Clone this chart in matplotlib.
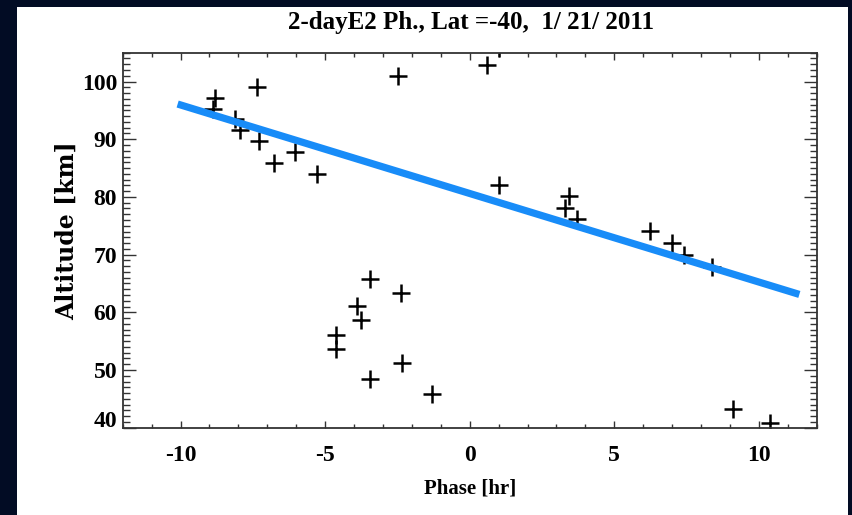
import matplotlib
matplotlib.use("Agg")
import matplotlib.pyplot as plt
from matplotlib.patches import Rectangle
from matplotlib.ticker import MultipleLocator
import matplotlib.transforms as mtransforms

plt.rcParams['axes.unicode_minus'] = False

# ---- data ----
phase = [-8.82, -8.87, -8.13, -7.93, -7.36, -7.30, -6.76, -6.03, -5.29, -2.47,
         0.60, 1.00, 1.01, 3.42, 3.29, 3.70, 6.23, 7.01, 7.41, 8.39,
         9.10, 10.38, -3.45, -2.38, -3.91, -3.77, -4.62, -4.64, -2.33, -3.45,
         -1.30]
altitude = [97.1, 95.3, 93.5, 91.6, 99.0, 89.7, 85.8, 87.8, 83.9, 100.9,
            102.9, 105.8, 82.0, 80.1, 78.1, 76.1, 74.1, 72.0, 69.9, 67.9,
            43.3, 40.9, 65.7, 63.4, 61.1, 58.6, 56.1, 53.7, 51.2, 48.5,
            45.8]
fit_phase = [-10.1, 11.4]
fit_alt = [96.1, 63.1]

title = "2-dayE2 Ph., Lat =-40,  1/ 21/ 2011"
xlabel = "Phase [hr]"
ylabel = "Altitude [km]"
xticks = [-10, -5, 0, 5, 10]
yticks = [40, 50, 60, 70, 80, 90, 100]

W, H = 852, 515
fig = plt.figure(figsize=(W / 100, H / 100), dpi=100)
fig.patch.set_facecolor('#020c24')
fig.patches.append(Rectangle((17 / W, 0), (848 - 17) / W, 1 - 7 / H,
                             transform=fig.transFigure, facecolor='white',
                             edgecolor='none', zorder=-5))

ax = fig.add_axes([122.7 / W, 1 - 427.7 / H, (816.7 - 122.7) / W, (427.7 - 52.7) / H])
ax.set_zorder(2)
ax.set_facecolor('white')

ax.plot(phase, altitude, linestyle='none', marker='+', markersize=12.5,
        markeredgewidth=1.8, color='black', zorder=2)
ax.plot(fit_phase, fit_alt, color='#188CF8', linewidth=5.2,
        solid_capstyle='butt', zorder=3)

ax.set_xlim(-12, 12)
ax.set_ylim(40, 105)
ax.set_xticks(xticks)
ax.set_yticks(yticks)
ax.xaxis.set_minor_locator(MultipleLocator(1))
ax.yaxis.set_minor_locator(MultipleLocator(1))

serif = ['Liberation Serif', 'DejaVu Serif']
ax.tick_params(axis='x', which='major', direction='in', length=5, width=1.0,
               top=True, bottom=True, pad=12.5, color='#333333')
ax.tick_params(axis='x', which='minor', direction='in', length=2.6, width=1.0,
               top=True, bottom=True, color='#333333')
ax.tick_params(axis='y', which='major', direction='in', length=9.5, width=1.0,
               left=True, right=True, pad=4, color='#333333')
ax.tick_params(axis='y', which='minor', direction='in', length=4.8, width=1.0,
               left=True, right=True, color='#333333')
for lab in ax.get_xticklabels() + ax.get_yticklabels():
    lab.set_fontfamily(serif)
    lab.set_fontweight('bold')
    lab.set_fontsize(17)
for s in ax.spines.values():
    s.set_linewidth(1.3)
    s.set_color('#333333')

# shift the bottom y label up slightly as in the original
ylabs = ax.get_yticklabels()
off = mtransforms.ScaledTranslation(0, 9 / 100, fig.dpi_scale_trans)
ylabs[0].set_transform(ylabs[0].get_transform() + off)

fig.text(471 / W, 1 - 23 / H, title, ha='center', va='center',
         fontsize=18, fontweight='bold', family=serif)
fig.text(470 / W, 1 - 488 / H, xlabel, ha='center', va='center',
         fontsize=15, fontweight='bold', family=serif)
fig.text(67 / W, 1 - 231 / H, ylabel, ha='center', va='center', rotation=90,
         fontsize=17, fontweight='bold', family=['DejaVu Serif'])

fig.savefig('out.png', dpi=100, facecolor=fig.get_facecolor())
